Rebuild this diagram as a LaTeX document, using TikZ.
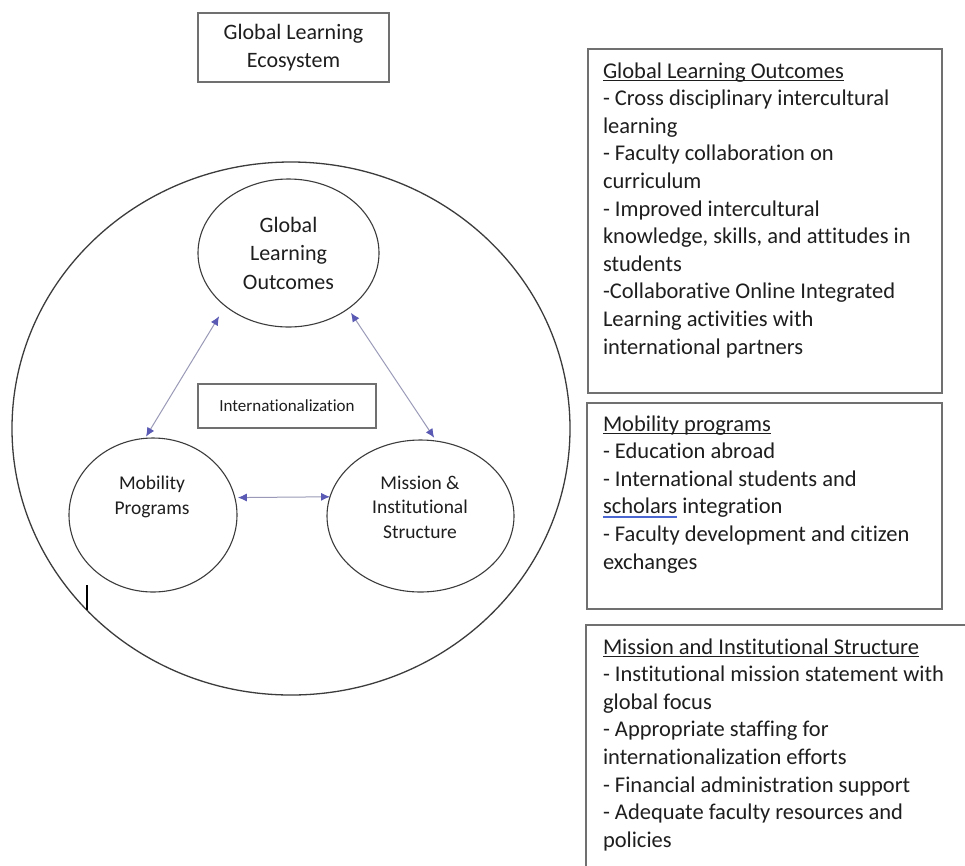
\documentclass[tikz,border=0pt]{standalone}
\usepackage{fontspec}
\setmainfont{Carlito}[Ligatures=NoCommon]
\usetikzlibrary{shapes.geometric,arrows.meta}
\definecolor{linec}{HTML}{3C3C3C}
\definecolor{boxc}{HTML}{707070}
\definecolor{arrc}{HTML}{9A9AB8}
\definecolor{tipc}{HTML}{5A5AB4}
\definecolor{txtc}{HTML}{1E1E1E}
\definecolor{ulblue}{HTML}{4A66D0}
\newcommand\hdrul[1]{\leavevmode\setbox0\hbox{#1}\rlap{\rule[-2.6pt]{\wd0}{1.1pt}}#1}
\newcommand\spellul[1]{\leavevmode\setbox0\hbox{#1}\rlap{\textcolor{ulblue}{\rule[-3.8pt]{\wd0}{1.4pt}}}#1}
\begin{document}
\begin{tikzpicture}[x=1pt,y=-1pt,
  every node/.style={text=txtc, inner sep=0pt, outer sep=0pt},
  oval/.style={ellipse, draw=linec, line width=1.1pt},
  frame/.style={rectangle, draw=boxc, line width=1.3pt},
  bigtext/.style={font=\fontsize{22}{28.5}\selectfont, align=center},
  midtext/.style={font=\fontsize{19.5}{24.5}\selectfont, align=center},
  listtext/.style={font=\fontsize{22.5}{27.6}\selectfont, anchor=base west},
  link/.style={draw=arrc, line width=1pt, {Latex[length=9pt,width=8pt,color=tipc]}-{Latex[length=9pt,width=8pt,color=tipc]}}
]
\fill[white] (0,0) rectangle (965,865);
\useasboundingbox (0,0) rectangle (965,865);
\clip (0,0) rectangle (965,865);

\node[frame, minimum width=191, minimum height=69, bigtext] (title) at (293.5,47.5) {Global Learning\\Ecosystem};

\node[oval, line width=1.3pt, minimum width=558, minimum height=533] (eco) at (291,428.5) {};
\node[oval, minimum width=181, minimum height=148, bigtext] (glo) at (288.5,253) {Global\\Learning\\Outcomes};
\node[oval, minimum width=168, minimum height=154] (mob) at (153,515) {};
\node[midtext] (mobtxt) at (152,497) {Mobility\\Programs};
\node[oval, minimum width=187, minimum height=152] (mis) at (420.5,516) {};
\node[midtext] (mistxt) at (420,507) {Mission \&\\Institutional\\Structure};
\node[frame, minimum width=178, minimum height=44, font=\fontsize{17}{20}\selectfont] (intl) at (287,406) {Internationalization};

\draw[link, shorten <=2pt, shorten >=12pt] (mob.96) -- (glo.220);
\draw[link, shorten <=5pt, shorten >=4pt] (glo.317) -- (mis.78);
\draw[link, shorten <=3pt] (mob.12) -- (mis.168);

\draw[line width=1.5pt, black] (87,585) -- (87,610);

\node[frame, minimum width=354, minimum height=344, anchor=north west] (b1) at (588,49) {};
\node[listtext] (t1) at (603,78) {\parbox[t]{400pt}{\raggedright
\hdrul{Global Learning Outcomes}\\
- Cross disciplinary intercultural\\
learning\\
- Faculty collaboration on\\
curriculum\\
- Improved intercultural\\
knowledge, skills, and attitudes in\\
students\\
-Collaborative Online Integrated\\
Learning activities with\\
international partners}};

\node[frame, minimum width=355, minimum height=206, anchor=north west] (b2) at (587,403) {};
\node[listtext] (t2) at (603,431) {\parbox[t]{400pt}{\raggedright
\hdrul{Mobility programs}\\
- Education abroad\\
- International students and\\
\spellul{scholars} integration\\
- Faculty development and citizen\\
exchanges}};

\node[frame, minimum width=400, minimum height=260, anchor=north west] (b3) at (586,625) {};
\node[listtext] (t3) at (603,654) {\parbox[t]{400pt}{\raggedright
\hdrul{Mission and Institutional Structure}\\
- Institutional mission statement with\\
global focus\\
- Appropriate staffing for\\
internationalization efforts\\
- Financial administration support\\
- Adequate faculty resources and\\
policies}};
\end{tikzpicture}
\end{document}
